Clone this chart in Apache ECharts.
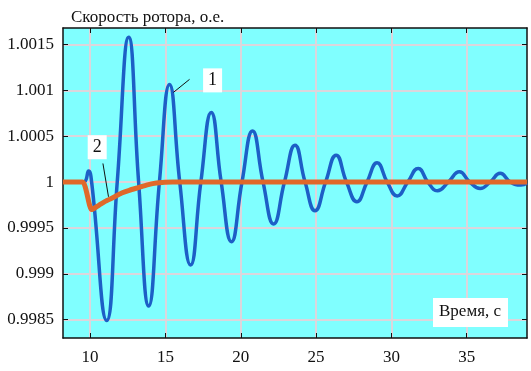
<!DOCTYPE html>
<html>
<head>
<meta charset="utf-8">
<script src="https://cdn.jsdelivr.net/npm/echarts@6/dist/echarts.min.js"></script>
<style>
  html, body { margin: 0; padding: 0; background: #fff; }
  #box1 { width: 531px; height: 371px; }
</style>
</head>
<body>
<div id="box1"></div>
<script>
// кривая 1 - экстремумы и переходы через 1
var time1 = [8.2, 9.55, 9.9, 10.1, 11.1, 11.8, 12.56, 13.22, 13.89, 14.6, 15.27, 15.95, 16.67, 17.35,
    18.04, 18.7, 19.38, 20.08, 20.78, 21.48, 22.18, 22.9, 23.6, 24.27, 24.93, 25.63, 26.33, 27.02,
    27.71, 28.38, 29.05, 29.72, 30.38, 31.08, 31.78, 32.42, 33.05, 33.78, 34.51, 35.2, 35.89, 36.55,
    37.22, 37.9, 38.6, 39];
var speed1 = [1, 1, 1.00012, 1, 0.99849, 1, 1.00158, 1, 0.99865, 1, 1.001065, 1, 0.999095, 1,
    1.00076, 1, 0.99935, 1, 1.000558, 1, 0.999543, 1, 1.000402, 1, 0.999688, 1, 1.000293, 1,
    0.999786, 1, 1.00021, 1, 0.999848, 1, 1.000149, 1, 0.999905, 1, 1.000112, 1, 0.99993, 1,
    1.000095, 1, 0.999967, 0.99999];
// кривая 2
var time2 = [8.2, 9.5, 10.1, 10.6, 11.0, 11.5, 12.1, 12.6, 13.2, 13.8, 14.4, 15.5, 39];
var speed2 = [1, 1, 0.9997, 0.99975, 0.99979, 0.99983, 0.99988, 0.99991, 0.99994, 0.99997, 0.99999, 1, 1];

var xTicks = [10, 15, 20, 25, 30, 35];
var yTicks = [0.9985, 0.999, 0.9995, 1, 1.0005, 1.001, 1.0015];

var font = '"Liberation Serif", "DejaVu Serif", serif';

function pairs(xs, ys) {
    return xs.map(function (x, i) { return [x, ys[i]]; });
}

var myChart = echarts.init(document.getElementById('box1'));

var axisLine = { show: true, onZero: false, lineStyle: { color: '#111', width: 1.5 } };
var gridLine = { show: true, lineStyle: { color: '#dcd6dc', width: 2 } };

var option = {
    animation: false,
    title: {
        text: 'Скорость ротора, о.е.',
        left: 66,
        top: 4,
        textStyle: { fontFamily: font, fontSize: 17, fontWeight: 'normal', color: '#111' }
    },
    grid: {
        left: 63, right: 4, top: 28, bottom: 33,
        show: true, backgroundColor: '#80ffff', borderWidth: 0
    },
    xAxis: [{
        type: 'value', min: 8.2, max: 39, position: 'bottom',
        axisLine: axisLine,
        axisTick: { inside: true, length: 5, customValues: xTicks, lineStyle: { color: '#111' } },
        axisLabel: { customValues: xTicks, margin: 11, color: '#111', fontFamily: font, fontSize: 17 },
        splitLine: gridLine
    }, {
        type: 'value', min: 8.2, max: 39, position: 'top',
        axisLine: axisLine,
        axisTick: { inside: true, length: 5, customValues: xTicks, lineStyle: { color: '#111' } },
        axisLabel: { show: false },
        splitLine: { show: false }
    }],
    yAxis: [{
        type: 'value', min: 0.9983, max: 1.00168, position: 'left',
        axisLine: axisLine,
        axisTick: { inside: true, length: 5, customValues: yTicks, lineStyle: { color: '#111' } },
        axisLabel: {
            customValues: yTicks, margin: 9, color: '#111', fontFamily: font, fontSize: 17,
            formatter: function (v) { return String(+v.toFixed(4)); }
        },
        splitLine: gridLine
    }, {
        type: 'value', min: 0.9983, max: 1.00168, position: 'right',
        axisLine: axisLine,
        axisTick: { inside: true, length: 5, customValues: yTicks, lineStyle: { color: '#111' } },
        axisLabel: { show: false },
        splitLine: { show: false }
    }],
    series: [{
        name: '1',
        type: 'line',
        data: pairs(time1, speed1),
        smooth: 0.5,
        showSymbol: false,
        z: 3,
        lineStyle: { color: '#1d5fc6', width: 3.5 },
        markLine: {
            silent: true, symbol: 'none', label: { show: false },
            lineStyle: { color: '#111', width: 1, type: 'solid' },
            data: [
                [{ coord: [16.6, 1.00112] }, { coord: [15.53, 1.000978] }],
                [{ coord: [10.85, 1.000203] }, { coord: [11.22, 0.99984] }]
            ]
        },
        markPoint: {
            silent: true, symbol: 'rect', symbolSize: [19, 24],
            itemStyle: { color: '#fff' },
            label: { show: true, position: 'inside', color: '#111', fontFamily: font, fontSize: 18 },
            data: [
                { coord: [18.13, 1.001109], value: '1' },
                { coord: [10.47, 1.00038], value: '2' }
            ]
        }
    }, {
        name: '2',
        type: 'line',
        data: pairs(time2, speed2),
        smooth: 0.2,
        showSymbol: false,
        z: 4,
        lineStyle: { color: '#e0682a', width: 5 }
    }],
    graphic: [{
        type: 'rect',
        shape: { x: 433, y: 298, width: 75, height: 29 },
        style: { fill: '#fff' },
        z: 100
    }, {
        type: 'text',
        x: 470, y: 312,
        style: {
            text: 'Время, с', fill: '#111', font: '17px ' + font,
            textAlign: 'center', textVerticalAlign: 'middle'
        },
        z: 101
    }]
};

myChart.setOption(option);
window.addEventListener('resize', function () {
    myChart.resize();
});
</script>
</body>
</html>
